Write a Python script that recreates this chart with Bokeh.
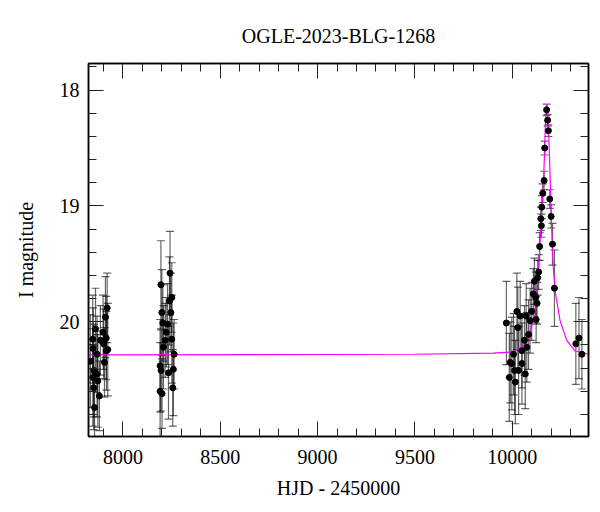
from bokeh.plotting import figure
from bokeh.models import (ColumnDataSource, Whisker, TeeHead, Range1d, FixedTicker,
                          LinearAxis, CustomJSTickFormatter)
from bokeh.embed import file_html
from bokeh.resources import INLINE

# ---- data ----
s1_t = [7833, 7845, 7845, 7847, 7850, 7850, 7854, 7859, 7867, 7867, 7871, 7879,
        7884, 7898, 7901, 7905, 7910, 7914, 7915, 7919, 7922]
s1_m = [20.34, 20.15, 20.48, 20.23, 20.42, 20.57, 20.74, 20.06, 20.28, 20.45, 20.51, 20.64,
        20.16, 20.09, 20.19, 20.35, 19.96, 20.14, 20.25, 19.88, 20.24]
s1_e = [0.40, 0.38, 0.42, 0.35, 0.40, 0.36, 0.30, 0.35, 0.33, 0.37, 0.40, 0.30,
        0.30, 0.32, 0.30, 0.30, 0.35, 0.36, 0.34, 0.30, 0.40]

s2_t = [8191, 8191, 8195, 8196, 8200, 8201, 8205, 8208, 8217, 8222, 8229, 8234,
        8239, 8242, 8246, 8251, 8251, 8256, 8259, 8263]
s2_m = [20.38, 20.60, 19.68, 20.42, 19.92, 20.62, 20.01, 20.22, 20.16, 20.09, 20.02, 20.44,
        19.82, 19.58, 19.92, 19.79, 20.15, 20.57, 20.41, 20.28]
s2_e = [0.40, 0.42, 0.38, 0.35, 0.37, 0.30, 0.33, 0.36, 0.32, 0.30, 0.35, 0.40,
        0.38, 0.36, 0.34, 0.30, 0.38, 0.33, 0.40, 0.30]

s3_t = [9970, 9985, 9990, 9998, 10007, 10012, 10016, 10024, 10029, 10033, 10041, 10050,
        10050, 10063, 10067, 10072, 10075, 10084, 10092, 10100, 10109, 10114, 10121,
        10123, 10128, 10131, 10136, 10141, 10147, 10150, 10152, 10157, 10164, 10167,
        10177, 10182, 10186, 10193, 10200, 10207, 10217, 10327, 10343, 10358]
s3_m = [20.01, 20.48, 20.35, 20.36, 20.28, 20.42, 20.52, 19.91, 20.05, 20.42, 19.95, 20.36,
        20.25, 20.16, 20.45, 19.95, 20.22, 20.11, 19.99, 19.91, 19.76, 19.65, 19.79,
        19.98, 19.84, 19.62, 19.57, 19.35, 19.11, 19.17, 19.01, 18.89, 18.78, 18.50,
        18.17, 18.26, 18.35, 18.94, 19.09, 19.33, 19.71, 20.19, 20.14, 20.28]
s3_e = [0.36, 0.38, 0.35, 0.40, 0.35, 0.38, 0.36, 0.33, 0.35, 0.38, 0.30, 0.35,
        0.32, 0.30, 0.30, 0.28, 0.30, 0.30, 0.28, 0.25, 0.22, 0.20, 0.22,
        0.20, 0.18, 0.15, 0.15, 0.12, 0.10, 0.10, 0.10, 0.08, 0.08, 0.06,
        0.05, 0.05, 0.05, 0.08, 0.10, 0.18, 0.33, 0.35, 0.35, 0.30]

model_t = [7823, 9500, 9900, 9998, 10050, 10084, 10109, 10126, 10138, 10149, 10161,
           10166, 10170, 10174, 10177, 10180, 10184, 10188, 10191, 10196, 10200, 10205,
           10211, 10223, 10246, 10280, 10323, 10392]
model_m = [20.285, 20.28, 20.27, 20.26, 20.22, 20.14, 19.99, 19.76, 19.47, 19.13, 18.78,
           18.55, 18.32, 18.17, 18.12, 18.14, 18.24, 18.40, 18.55, 18.82, 19.05, 19.30,
           19.53, 19.76, 19.99, 20.16, 20.25, 20.28]

x_major = [8000, 8500, 9000, 9500, 10000]
x_minor = [7900, 8100, 8200, 8300, 8400, 8600, 8700, 8800, 8900, 9100, 9200, 9300, 9400,
           9600, 9700, 9800, 9900, 10100, 10200, 10300]
y_major = [18, 19, 20]
y_minor = [17.8, 18.2, 18.4, 18.6, 18.8, 19.2, 19.4, 19.6, 19.8, 20.2, 20.4, 20.6, 20.8]

FONT = "Liberation Serif"
FS = "20px"

p = figure(width=592, height=510, output_backend="svg", toolbar_location=None,
           x_range=Range1d(7823, 10392), y_range=Range1d(20.99, 17.77),
           min_border_left=88, min_border_right=4, min_border_top=63, min_border_bottom=74)

p.title.text = "OGLE-2023-BLG-1268"
p.title.align = "center"
p.title.vertical_align = "top"
p.title.text_font = FONT
p.title.text_font_size = FS
p.title.text_font_style = "normal"
p.title.text_color = "black"
p.title.standoff = 30

p.grid.visible = False
p.outline_line_color = "black"
p.outline_line_width = 1.5
p.background_fill_color = "white"
p.border_fill_color = "white"

xt = FixedTicker(ticks=x_major, minor_ticks=x_minor)
yt = FixedTicker(ticks=y_major, minor_ticks=y_minor)

def ticks(ax):
    ax.major_tick_in = 15
    ax.major_tick_out = 0
    ax.minor_tick_in = 8
    ax.minor_tick_out = 0
    ax.major_tick_line_color = "#222222"
    ax.minor_tick_line_color = "#222222"
    ax.axis_line_color = "black"
    ax.axis_line_width = 1.5

for ax in (p.xaxis[0], p.yaxis[0]):
    ticks(ax)
    ax.major_label_text_font = FONT
    ax.major_label_text_font_size = FS
    ax.major_label_text_color = "black"
    ax.axis_label_text_font = FONT
    ax.axis_label_text_font_size = FS
    ax.axis_label_text_font_style = "normal"
    ax.axis_label_text_color = "black"

p.xaxis[0].ticker = xt
p.yaxis[0].ticker = yt
p.xaxis[0].axis_label = "HJD - 2450000"
p.yaxis[0].axis_label = "I magnitude"
p.xaxis[0].major_label_standoff = 13
p.yaxis[0].major_label_standoff = 9
p.xaxis[0].axis_label_standoff = 10
p.yaxis[0].axis_label_standoff = 20

blank = CustomJSTickFormatter(code="return ''")
top = LinearAxis(ticker=xt, formatter=blank, major_label_standoff=0)
ticks(top)
p.add_layout(top, "above")
right = LinearAxis(ticker=yt, formatter=blank, major_label_standoff=0)
ticks(right)
p.add_layout(right, "right")

p.line(model_t, model_m, line_color="#ff00ff", line_width=1.2)

for tt, mm, ee in [(s1_t, s1_m, s1_e), (s2_t, s2_m, s2_e), (s3_t, s3_m, s3_e)]:
    src = ColumnDataSource(dict(t=tt, m=mm, up=[a - b for a, b in zip(mm, ee)],
                                lo=[a + b for a, b in zip(mm, ee)]))
    w = Whisker(base="t", upper="up", lower="lo", source=src, dimension="height",
                line_color="black", line_alpha=0.6, line_width=1.2,
                upper_head=TeeHead(size=8, line_color="black", line_alpha=0.6, line_width=1.2),
                lower_head=TeeHead(size=8, line_color="black", line_alpha=0.6, line_width=1.2))
    p.add_layout(w)
    p.scatter("t", "m", source=src, size=6, color="black")

open("out.html", "w").write(file_html(p, INLINE))
